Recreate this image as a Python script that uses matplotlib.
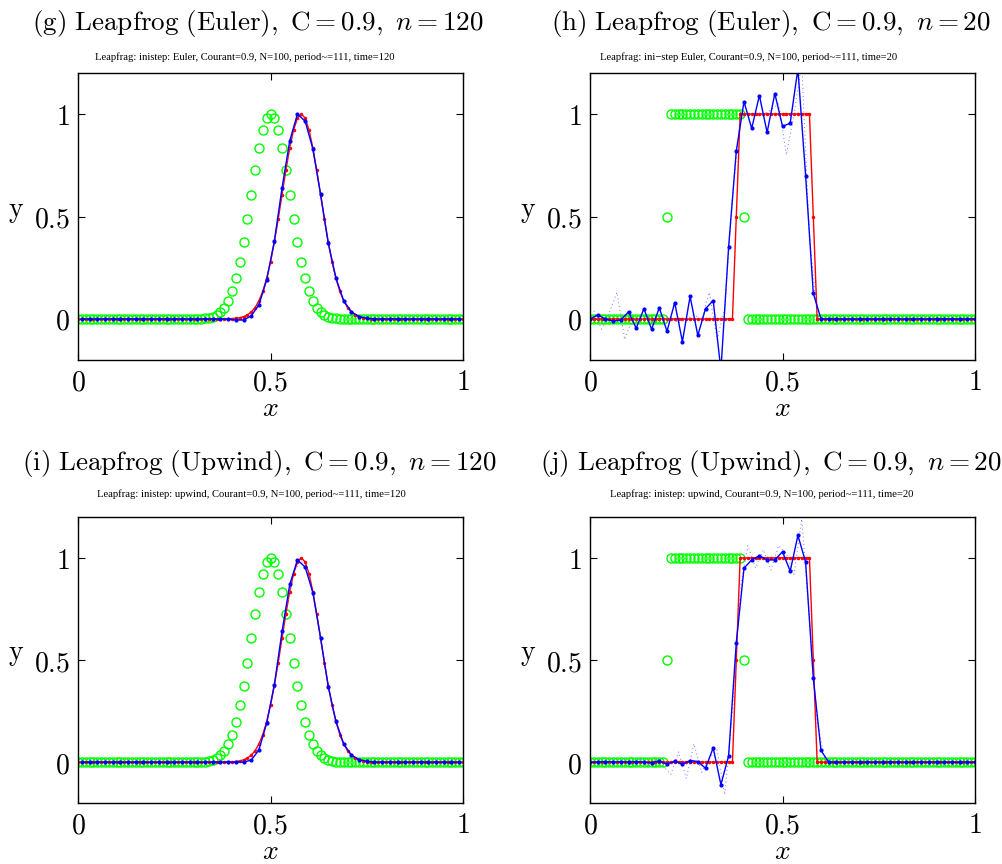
import numpy as np
import matplotlib
matplotlib.use("Agg")
import matplotlib.pyplot as plt

plt.rcParams['mathtext.fontset'] = 'cm'

# grids
x_all = np.linspace(0, 1, 101)      # every point
x_even = x_all[0::2]                # 0, 0.02, ... 1.0
x_odd = x_all[1::2]                 # 0.01, 0.03, ... 0.99

# gaussian hump, read at x = 0.32 ... 0.68
hump = [0.002, 0.003, 0.006, 0.011, 0.020, 0.034, 0.056, 0.089, 0.135, 0.198,
        0.278, 0.375, 0.487, 0.607, 0.726, 0.835, 0.923, 0.980, 1.000, 0.980,
        0.923, 0.835, 0.726, 0.607, 0.487, 0.375, 0.278, 0.198, 0.135, 0.089,
        0.056, 0.034, 0.020, 0.011, 0.006, 0.003, 0.002]
gauss_init = np.r_[np.zeros(32), hump, np.zeros(32)]     # centred 0.50
gauss_exact = np.r_[np.zeros(40), hump, np.zeros(24)]    # centred 0.58

# numerical (odd grid, solid) x = 0.41 ... 0.75
g_num = [-0.005, -0.005, 0.015, 0.07, 0.19, 0.38, 0.64, 0.87, 1.0, 0.965,
         0.83, 0.61, 0.37, 0.2, 0.09, 0.035, 0.012, 0.003]
i_num = [0.0, 0.0, 0.01, 0.06, 0.19, 0.38, 0.64, 0.87, 0.99, 0.955,
         0.83, 0.61, 0.37, 0.2, 0.09, 0.035, 0.012, 0.004]
# other leapfrog level (even grid, dotted) x = 0.40 ... 0.76
g_old = [0.0, -0.005, 0.005, 0.04, 0.12, 0.27, 0.49, 0.74, 0.93, 0.99,
         0.92, 0.72, 0.48, 0.27, 0.13, 0.055, 0.02, 0.006, 0.001]
i_old = [0.0, 0.0, 0.005, 0.035, 0.12, 0.27, 0.49, 0.74, 0.93, 0.985,
         0.92, 0.72, 0.48, 0.27, 0.13, 0.055, 0.02, 0.006, 0.002]

# square wave
sq_init = np.r_[np.zeros(20), [0.5], np.ones(19), [0.5], np.zeros(60)]
sq_exact = np.r_[np.zeros(38), [0.5], np.ones(19), [0.5], np.zeros(42)]

# numerical (even grid, solid) x = 0.00 ... 0.62
h_num = [0.0, 0.02, 0.0, -0.01, -0.005, 0.035, -0.045, 0.05, -0.05, 0.055,
         -0.06, 0.08, -0.11, 0.11, -0.08, 0.05, 0.09, -0.25, 0.35, 0.82,
         1.06, 0.93, 1.09, 0.91, 1.10, 0.94, 0.955, 1.22, 0.70, 0.125, 0.0]
j_num = [0.0, 0.0, 0.003, 0.0, 0.002, 0.0, 0.003, 0.0, -0.003, 0.005,
         -0.01, 0.005, -0.01, 0.008, 0.003, -0.03, 0.07, -0.11, 0.03, 0.585,
         0.95, 0.99, 1.01, 0.99, 0.99, 1.03, 0.935, 1.11, 0.98, 0.41,
         0.057, 0.0]
# other level (odd grid, dotted)
h_old = [0.04, -0.05, 0.03, 0.13, -0.1, 0.0, 0.0, 0.0, 0.0, 0.0,
         0.01, -0.02, 0.0, 0.02, 0.0, 0.13, -0.1, 0.05, 0.6, 0.97,
         1.0, 1.0, 1.0, 1.02, 1.05, 0.80, 1.0, 1.25, 0.4, 0.02]
j_old = [0.0, 0.005, -0.005, 0.0, 0.01, -0.01, 0.02, -0.02, 0.015, -0.02,
         -0.06, 0.05, -0.08, 0.09, -0.05, 0.02, 0.06, -0.16, 0.25, 0.85,
         1.06, 0.95, 1.04, 0.94, 1.06, 1.02, 0.92, 1.19, 0.7, 0.2, 0.01]

panels = [
    dict(init=gauss_init, exact=gauss_exact,
         xs=x_odd, num=np.r_[np.zeros(20), g_num, np.zeros(12)],
         xo=x_even, old=np.r_[np.zeros(20), g_old, np.zeros(12)],
         title=r'$\mathrm{(g)\ Leapfrog\ (Euler),\ C} = 0.9,\ n = 120$',
         sub='Leapfrag: inistep: Euler, Courant=0.9, N=100, period~=111, time=120'),
    dict(init=sq_init, exact=sq_exact,
         xs=x_even, num=np.r_[h_num, np.zeros(20)],
         xo=x_odd, old=np.r_[h_old, np.zeros(20)],
         title=r'$\mathrm{(h)\ Leapfrog\ (Euler),\ C} = 0.9,\ n = 20$',
         sub='Leapfrag: ini\u2212step Euler, Courant=0.9, N=100, period~=111, time=20'),
    dict(init=gauss_init, exact=gauss_exact,
         xs=x_odd, num=np.r_[np.zeros(20), i_num, np.zeros(12)],
         xo=x_even, old=np.r_[np.zeros(20), i_old, np.zeros(12)],
         title=r'$\mathrm{(i)\ Leapfrog\ (Upwind),\ C} = 0.9,\ n = 120$',
         sub='Leapfrag: inistep: upwind, Courant=0.9, N=100, period~=111, time=120'),
    dict(init=sq_init, exact=sq_exact,
         xs=x_even, num=np.r_[j_num, np.zeros(19)],
         xo=x_odd, old=np.r_[j_old, np.zeros(19)],
         title=r'$\mathrm{(j)\ Leapfrog\ (Upwind),\ C} = 0.9,\ n = 20$',
         sub='Leapfrag: inistep: upwind, Courant=0.9, N=100, period~=111, time=20'),
]

tick_vals = [0, 0.5, 1]
tick_labels = ['$0$', '$0.5$', '$1$']

W, H = 1002, 864
fig = plt.figure(figsize=(W / 100, H / 100), dpi=100)

# axes boxes in pixels: left, top, right, bottom
boxes = [(78, 73, 463, 360), (590, 73, 975, 360),
         (78, 517, 463, 803), (590, 517, 975, 803)]
title_pos = [(258, 30), (771, 30), (259, 470), (771, 470)]
sub_pos = [(95, 60), (600, 60), (97, 497), (610, 497)]

for p, b, tp, sp in zip(panels, boxes, title_pos, sub_pos):
    l, t, r, bt = b
    ax = fig.add_axes([l / W, 1 - bt / H, (r - l) / W, (bt - t) / H])
    ax.plot(x_all, p['init'], 'o', mfc='none', mec=(0, 1, 0), ms=6.5, mew=1)
    ax.plot(x_all, p['exact'], '.-', color='r', lw=1, ms=3)
    ax.plot(p['xo'], p['old'], linestyle=(0, (1, 3)), color=(0.45, 0.45, 1), lw=0.7)
    ax.plot(p['xs'], p['num'], '.-', color='b', lw=1, ms=4)
    ax.set_xlim(0, 1)
    ax.set_ylim(-0.2, 1.2)
    ax.set_xticks(tick_vals)
    ax.set_xticklabels(tick_labels)
    ax.set_yticks(tick_vals)
    ax.set_yticklabels(tick_labels)
    ax.tick_params(direction='in', length=5, width=0.8, top=True, right=True,
                   labelsize=20, pad=6)
    for s in ax.spines.values():
        s.set_linewidth(1)
    ax.set_xlabel('$x$', fontsize=20, va='top')
    ax.xaxis.set_label_coords(0.5, -0.118)
    ax.set_ylabel(r'$\mathrm{y}$', fontsize=20, rotation=0, va='center', ha='center')
    ax.yaxis.set_label_coords(-0.16, 0.52)
    fig.text(tp[0] / W, 1 - tp[1] / H, p['title'], ha='center', va='baseline', fontsize=19.5)
    fig.text(sp[0] / W, 1 - sp[1] / H, p['sub'], ha='left', va='baseline',
             fontsize=7.7, family='Liberation Serif')

fig.savefig('out.png', dpi=100)
